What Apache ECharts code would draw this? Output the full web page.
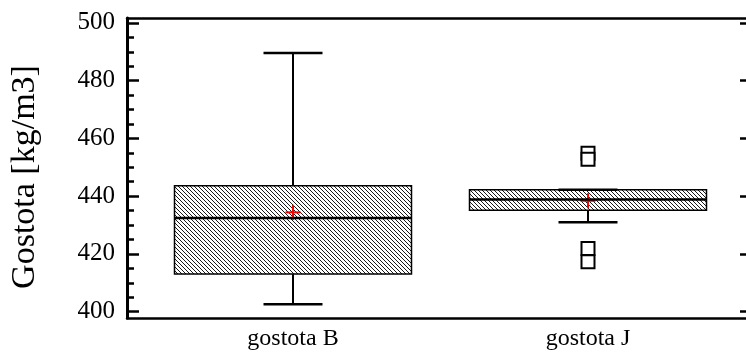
<!DOCTYPE html>
<html>
<head>
<meta charset="utf-8">
<script src="https://cdn.jsdelivr.net/npm/echarts@6/dist/echarts.min.js"></script>
<style>
  html, body { margin: 0; padding: 0; background: #fff; }
  #chart { width: 746px; height: 352px; }
</style>
</head>
<body>
<div id="chart"></div>
<script>
// categories and box statistics
var categories = ['gostota B', 'gostota J'];
// [low whisker, Q1, median, Q3, high whisker]
var boxStats = [
  [402.6, 413.0, 432.4, 443.6, 489.6],
  [431.0, 435.1, 438.8, 442.2, 442.2]
];
var means = [434.4, 438.4];
// outliers: [category index, value]
var outliers = [[1, 454.9], [1, 452.8], [1, 421.9], [1, 417.3]];
var yTicks = [400, 420, 440, 460, 480, 500];
var yMinorTicks = [];
for (var v = 400; v <= 500; v += 5) yMinorTicks.push(v);

// hatch pattern for the boxes
function makeHatch() {
  var c = document.createElement('canvas');
  c.width = 4; c.height = 4;
  var ctx = c.getContext('2d');
  ctx.strokeStyle = '#000';
  ctx.lineWidth = 0.9;
  ctx.beginPath();
  ctx.moveTo(-1, -1); ctx.lineTo(5, 5);
  ctx.moveTo(-1, 3); ctx.lineTo(1, 5);
  ctx.moveTo(3, -1); ctx.lineTo(5, 1);
  ctx.stroke();
  return c;
}
var hatch = makeHatch();

var boxData = boxStats.map(function (s, i) {
  return [i].concat(s).concat([means[i]]);
});

var chart = echarts.init(document.getElementById('chart'));
var font = 'Liberation Serif';
var xMin = -0.5627, xMax = 1.5356;
var yMin = 397.8, yMax = 501.7;

function renderBox(params, api) {
  var x = api.value(0);
  var lo = api.coord([x, api.value(1)]);
  var q1 = api.coord([x, api.value(2)]);
  var med = api.coord([x, api.value(3)]);
  var q3 = api.coord([x, api.value(4)]);
  var hi = api.coord([x, api.value(5)]);
  var mean = api.coord([x, api.value(6)]);
  var cx = lo[0];
  var half = 118.5, cap = 29.5, plus = 7.5;
  var black = { stroke: '#000', lineWidth: 2 };
  return {
    type: 'group',
    children: [
      { type: 'line', shape: { x1: cx, y1: hi[1], x2: cx, y2: q3[1] }, style: black },
      { type: 'line', shape: { x1: cx, y1: q1[1], x2: cx, y2: lo[1] }, style: black },
      { type: 'rect', shape: { x: cx - half, y: q3[1], width: half * 2, height: q1[1] - q3[1] },
        style: { fill: { image: hatch, repeat: 'repeat' }, stroke: '#000', lineWidth: 1.5 } },
      { type: 'line', shape: { x1: cx - plus, y1: mean[1], x2: cx + plus, y2: mean[1] }, style: { stroke: '#ff0000', lineWidth: 2 } },
      { type: 'line', shape: { x1: cx, y1: mean[1] - plus, x2: cx, y2: mean[1] + plus }, style: { stroke: '#ff0000', lineWidth: 2 } },
      { type: 'line', shape: { x1: cx - half, y1: med[1], x2: cx + half, y2: med[1] }, style: { stroke: '#000', lineWidth: 2.5 } },
      { type: 'line', shape: { x1: cx - cap, y1: hi[1], x2: cx + cap, y2: hi[1] }, style: { stroke: '#000', lineWidth: 2.5 } },
      { type: 'line', shape: { x1: cx - cap, y1: lo[1], x2: cx + cap, y2: lo[1] }, style: { stroke: '#000', lineWidth: 2.5 } }
    ]
  };
}

var option = {
  animation: false,
  backgroundColor: '#fff',
  grid: { left: 127, right: 0, top: 18, bottom: 34, containLabel: false },
  xAxis: [
    {
      type: 'value', min: xMin, max: xMax, position: 'bottom',
      axisLine: { show: true, onZero: false, lineStyle: { color: '#000', width: 2.5 } },
      axisTick: { show: false },
      splitLine: { show: false },
      axisLabel: {
        customValues: [0, 1], margin: 9,
        formatter: function (v) { return categories[Math.round(v)]; },
        color: '#000', fontFamily: font, fontSize: 24
      }
    },
    {
      type: 'value', min: xMin, max: xMax, position: 'top',
      axisLine: { show: true, onZero: false, lineStyle: { color: '#000', width: 2.5 } },
      axisTick: { show: false }, axisLabel: { show: false }, splitLine: { show: false }
    }
  ],
  yAxis: [
    {
      type: 'value', min: yMin, max: yMax, position: 'left',
      name: 'Gostota [kg/m3]', nameLocation: 'middle', nameGap: 85,
      nameTextStyle: { color: '#000', fontFamily: font, fontSize: 34, padding: [0, 18, 0, 0] },
      axisLine: { show: true, onZero: false, lineStyle: { color: '#000', width: 3 } },
      axisTick: { show: true, inside: true, length: 12, customValues: yTicks, lineStyle: { color: '#000', width: 2.5 } },
      axisLabel: { customValues: yTicks, margin: 12, color: '#000', fontFamily: font, fontSize: 25 },
      splitLine: { show: false }
    },
    {
      type: 'value', min: yMin, max: yMax, position: 'left',
      axisLine: { show: false, onZero: false },
      axisTick: { show: true, inside: true, length: 7, customValues: yMinorTicks, lineStyle: { color: '#000', width: 2.5 } },
      axisLabel: { show: false }, splitLine: { show: false }
    },
    {
      type: 'value', min: yMin, max: yMax, position: 'right',
      axisLine: { show: false, onZero: false },
      axisTick: { show: true, inside: true, length: 6, customValues: yTicks, lineStyle: { color: '#000', width: 2.5 } },
      axisLabel: { show: false }, splitLine: { show: false }
    }
  ],
  series: [
    {
      type: 'custom',
      xAxisIndex: 0, yAxisIndex: 0,
      renderItem: renderBox,
      data: boxData,
      encode: { x: 0, y: [1, 2, 3, 4, 5, 6] },
      z: 2
    },
    {
      type: 'scatter',
      xAxisIndex: 0, yAxisIndex: 0,
      symbol: 'rect', symbolSize: 13,
      itemStyle: { color: '#fff', borderColor: '#000', borderWidth: 2, opacity: 1 },
      data: outliers,
      z: 3
    }
  ]
};
chart.setOption(option);
</script>
</body>
</html>
